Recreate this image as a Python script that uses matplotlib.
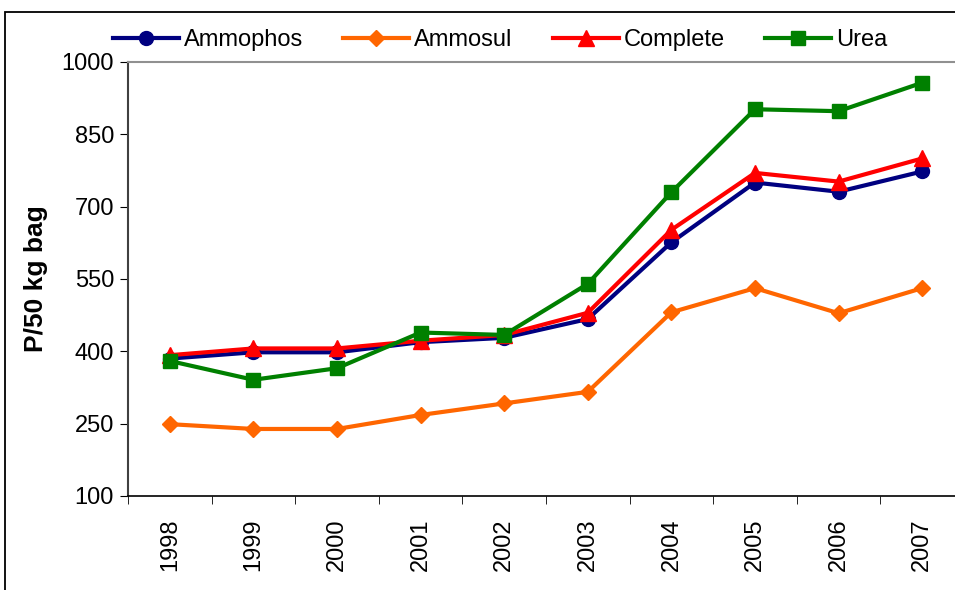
import matplotlib.pyplot as plt
import numpy as np
from matplotlib.patches import Rectangle

years = ['1998', '1999', '2000', '2001', '2002', '2003', '2004', '2005', '2006', '2007']
ammophos = [385, 398, 398, 419, 428, 467, 626, 750, 731, 773]
ammosul = [249, 239, 239, 268, 292, 316, 481, 531, 479, 531]
complete = [392, 406, 406, 422, 434, 480, 652, 770, 752, 800]
urea = [380, 341, 365, 439, 434, 540, 730, 902, 898, 957]

plt.rcParams['font.family'] = ['Liberation Sans', 'DejaVu Sans']

fig = plt.figure(figsize=(9.55, 5.9), dpi=100)
ax = fig.add_axes([128 / 955, 1 - 496 / 590, 836 / 955, 434 / 590])

x = np.arange(len(years))
ax.plot(x, ammophos, color='#000080', lw=3, marker='o', ms=10, label='Ammophos')
ax.plot(x, ammosul, color='#ff6600', lw=3, marker='D', ms=8.5, label='Ammosul')
ax.plot(x, complete, color='#ff0000', lw=3, marker='^', ms=11, label='Complete')
ax.plot(x, urea, color='#008000', lw=3, marker='s', ms=9.5, label='Urea')

ax.set_xlim(-0.5, len(years) - 0.5)
ax.set_ylim(100, 1000)
ax.set_yticks([100, 250, 400, 550, 700, 850, 1000])
ax.tick_params(axis='y', labelsize=17, direction='out', length=6, pad=4)

ax.set_xticks(x)
ax.set_xticklabels(years, rotation=90, fontsize=17)
ax.tick_params(axis='x', which='major', length=0, pad=16)
ax.set_xticks(np.arange(len(years)) - 0.5, minor=True)
ax.tick_params(axis='x', which='minor', length=6, direction='out')

ax.set_ylabel('P/50 kg bag', fontsize=19, fontweight='bold', labelpad=10)

ax.spines['top'].set_color('#909090')
ax.spines['top'].set_linewidth(1.5)
ax.spines['left'].set_color('#404040')
ax.spines['left'].set_linewidth(1.5)
ax.spines['bottom'].set_linewidth(1.2)
ax.spines['right'].set_visible(False)

fig.legend(loc='center', bbox_to_anchor=(500 / 955, 1 - 40 / 590), ncol=4,
           frameon=False, fontsize=17, handlelength=2.8, columnspacing=1.7,
           handletextpad=0.2)

fig.patches.append(Rectangle((5 / 955, -0.1), 1.2, 1.1 - 12 / 590,
                             transform=fig.transFigure, fill=False,
                             edgecolor='black', lw=1.3))

fig.savefig('out.png', dpi=100)
